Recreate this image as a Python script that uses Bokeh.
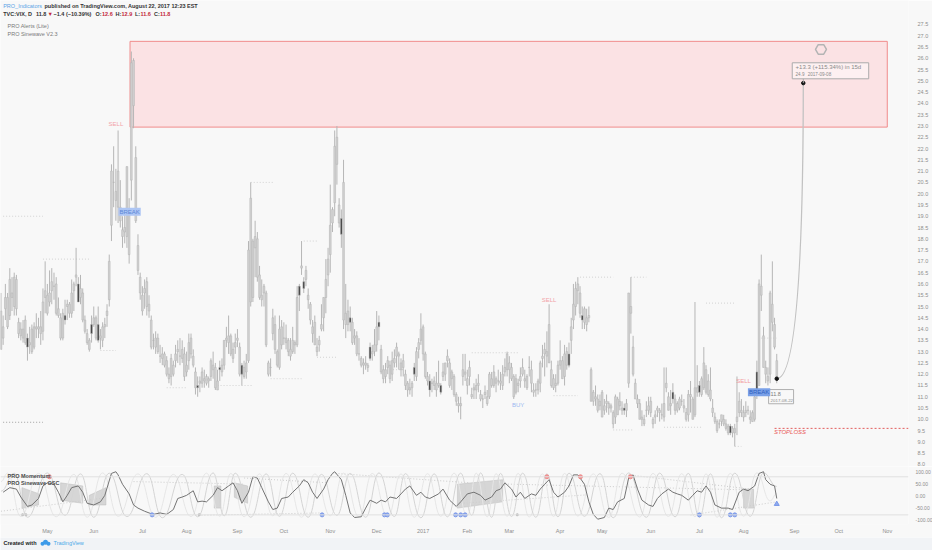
import pandas as pd
from bokeh.plotting import figure
from bokeh.models import Range1d, FixedTicker, NumeralTickFormatter, Label, Span, ColumnDataSource
from bokeh.layouts import column
from bokeh.embed import file_html
from bokeh.resources import INLINE

# ---------------- calendar ----------------
holidays = ["2016-05-30", "2016-07-04", "2016-09-05", "2016-11-24", "2016-12-26",
            "2017-01-02", "2017-01-16", "2017-02-20", "2017-04-14", "2017-05-29",
            "2017-07-04", "2017-09-04", "2017-11-23"]
days = pd.bdate_range("2016-04-01", "2017-11-30")
days = days[~days.isin(pd.to_datetime(holidays))]

month_labels = ["May", "Jun", "Jul", "Aug", "Sep", "Oct", "Nov", "Dec", "2017",
                "Feb", "Mar", "Apr", "May", "Jun", "Jul", "Aug", "Sep", "Oct", "Nov"]

# ---------------- TVC:VIX daily OHLC ----------------
apr16 = [(14.8,15.6,13.1,13.1),(13.6,14.6,13.3,14.1),(14.9,16.0,14.4,15.4),(15.4,15.6,14.0,14.1),
         (14.6,16.7,14.4,16.2),(15.6,16.3,14.8,15.4),(15.0,16.5,14.6,16.3),(16.2,16.4,14.6,14.9),
         (14.3,14.5,13.6,13.8),(14.0,14.3,13.5,13.7),(14.0,14.4,13.4,13.6),(14.4,14.6,13.3,13.4),
         (13.6,13.8,12.6,13.2),(13.4,14.1,12.9,13.3),(13.0,14.2,12.9,14.0),(14.1,14.3,13.1,13.2),
         (14.0,14.7,13.6,14.1),(14.1,14.5,13.6,14.0),(14.1,14.8,13.3,13.8),(13.9,15.8,13.5,15.2),
         (15.4,17.0,14.7,15.7)]
may16 = [(15.5,16.0,14.6,14.7),(15.2,16.6,15.0,15.6),(15.7,16.7,15.1,16.1),(15.9,16.5,15.3,15.9),
         (16.0,16.3,14.6,14.7),(14.9,15.4,14.5,14.6),(14.5,14.7,13.5,13.6),(13.6,14.9,13.5,14.7),
         (14.6,15.3,14.2,14.4),(15.1,15.3,14.4,15.0),(15.1,15.2,14.5,14.7),(14.7,16.2,14.5,15.6),
         (15.7,16.1,14.8,16.0),(16.4,17.6,15.9,16.3),(16.0,16.3,15.2,15.2),(15.4,16.4,15.1,15.8),
         (15.6,15.8,14.3,14.4),(14.4,14.6,13.8,13.9),(13.8,14.0,13.3,13.4),(13.5,13.6,13.0,13.1),
         (13.8,14.6,13.4,14.2)]
jun16 = [(14.5,15.0,14.1,14.2),(14.5,14.6,13.5,13.6),(14.2,15.0,13.4,13.5),(13.6,14.0,13.1,13.7),
         (13.5,14.3,13.2,14.1),(14.2,14.5,13.6,14.1),(14.8,15.1,14.1,14.6),(15.3,17.3,15.0,17.0),
         (18.6,21.3,17.9,21.0),(20.5,22.1,19.4,20.5),(19.7,21.1,18.8,20.1),(21.0,22.8,18.7,19.4),
         (18.8,20.6,18.5,19.4),(18.1,19.0,17.6,18.4),(18.3,19.1,17.8,18.5),(18.1,21.2,17.6,21.2),
         (19.3,19.8,16.9,17.3),(20.6,26.3,19.7,25.8),(25.9,26.0,22.9,23.9),(21.6,22.1,18.7,18.8),
         (17.7,18.2,16.4,16.6),(16.3,16.5,15.3,15.6)]
jul16 = [(15.5,15.9,14.6,14.8),(15.8,16.2,14.9,15.6),(16.1,16.3,14.6,15.0),(15.1,15.5,14.5,14.8),
         (14.4,14.6,13.1,13.2),(13.5,13.8,13.1,13.5),(13.2,13.9,12.9,13.6),(13.6,13.8,12.9,13.0),
         (12.8,13.3,12.5,12.8),(12.9,13.2,12.4,12.7),(12.9,13.0,12.3,12.4),(12.6,12.8,11.9,12.0),
         (12.0,12.3,11.6,11.8),(11.9,12.9,11.5,12.7),(12.4,12.6,11.9,12.0),(12.6,13.3,12.3,12.9),
         (13.0,13.5,12.5,13.1),(12.8,13.6,12.4,12.8),(13.1,13.5,12.5,12.7),(12.9,13.2,11.7,11.9)]
aug16 = [(12.1,13.0,11.9,12.4),(12.6,13.8,12.2,13.4),(13.6,13.8,12.7,12.9),(12.8,13.1,12.3,12.4),
         (12.1,12.3,11.1,11.4),(11.4,11.9,11.0,11.5),(11.6,11.9,11.2,11.7),(11.6,12.3,11.4,12.1),
         (11.8,12.2,11.4,11.7),(11.9,12.0,11.5,11.6),(11.7,11.9,11.4,11.8),(11.9,12.7,11.7,12.6),
         (12.4,13.0,11.8,12.2),(12.3,12.5,11.3,11.4),(11.7,12.2,11.3,11.3),(12.2,12.6,11.7,12.3),
         (12.1,12.7,11.9,12.4),(12.4,13.5,12.2,13.5),(13.5,14.1,13.2,13.6),(13.4,14.6,12.9,13.7),
         (13.7,13.8,12.8,12.9),(12.7,13.4,12.5,13.1),(13.2,13.8,12.9,13.4)]
sep16 = [(13.6,14.0,13.2,13.5),(13.2,13.4,11.9,12.0),(12.4,12.5,11.5,12.0),(12.3,12.6,11.8,11.9),
         (12.1,12.9,11.8,12.5),(12.6,17.9,12.5,17.5),(19.8,20.5,15.0,15.2),(15.4,18.0,15.2,17.9),
         (17.6,18.8,16.3,18.1),(18.0,18.3,16.1,16.3),(16.4,16.8,15.3,15.4),(15.3,16.2,15.0,15.5),
         (15.6,16.0,15.0,15.9),(15.6,15.7,13.2,13.3),(12.5,12.6,11.9,12.0),(12.3,12.7,11.9,12.3),
         (13.8,14.9,13.5,14.5),(14.2,14.6,12.9,13.1),(13.0,13.1,12.3,12.4),(12.3,14.6,12.2,14.0),
         (14.1,14.4,13.1,13.3)]
oct16 = [(13.6,14.3,13.3,13.6),(13.4,14.2,13.1,13.6),(13.5,13.6,12.8,13.0),(13.1,13.6,12.6,12.8),
         (13.0,14.1,12.9,13.5),(13.3,13.5,12.9,13.4),(13.3,15.9,13.2,15.4),(15.5,16.0,14.8,15.9),
         (16.8,17.9,16.4,16.7),(15.8,16.3,15.6,16.1),(16.6,16.8,15.9,16.2),(15.5,15.8,14.9,15.3),
         (15.1,15.2,14.2,14.4),(14.1,14.4,13.4,13.8),(14.3,14.6,13.3,13.3),(13.2,13.6,12.8,13.0),
         (13.3,13.7,13.0,13.5),(14.0,15.1,13.9,14.2),(14.5,15.4,13.9,15.4),(15.4,17.1,14.7,16.2),
         (16.4,17.6,15.9,17.1)]
nov16 = [(17.3,20.4,16.5,18.6),(18.7,19.4,18.3,19.3),(19.6,22.8,19.0,22.1),(21.3,23.0,20.4,22.5),
         (19.5,19.8,18.5,18.7),(18.9,19.3,17.6,18.2),(20.5,21.5,14.0,14.4),(14.2,16.0,13.6,14.7),
         (14.8,15.3,13.9,14.2),(14.3,15.0,13.9,14.5),(14.3,14.5,13.3,13.4),(13.6,14.0,13.3,13.7),
         (13.7,13.9,12.8,12.9),(12.9,13.6,12.6,12.9),(12.7,12.8,12.3,12.4),(12.5,12.7,12.0,12.4),
         (12.5,12.8,12.2,12.4),(12.4,12.5,12.1,12.3),(12.7,13.4,12.6,13.2),(13.0,13.3,12.6,12.9),
         (13.0,14.0,12.8,13.3)]
dec16 = [(13.3,14.8,13.0,14.1),(14.3,14.6,13.5,14.1),(13.1,13.3,12.0,12.1),(12.2,12.4,11.6,11.8),
         (11.9,12.5,11.6,12.2),(12.3,12.8,12.0,12.6),(12.4,12.6,11.6,11.8),(12.0,13.0,11.7,12.6),
         (12.5,13.1,12.3,12.7),(12.8,13.4,12.3,13.2),(12.9,13.0,12.2,12.8),(12.5,12.7,11.9,12.2),
         (12.6,12.9,11.9,12.3),(12.0,12.2,11.3,11.5),(11.6,11.7,11.0,11.3),(11.3,11.8,11.1,11.4),
         (11.6,11.7,11.0,11.4),(12.3,12.5,11.7,12.0),(11.9,13.2,11.7,13.0),(13.1,13.6,12.7,13.4),
         (13.5,14.7,13.3,14.0)]
jan17 = [(14.1,14.2,12.6,12.9),(12.9,13.0,11.8,11.9),(11.9,12.1,11.5,11.7),(11.7,12.0,11.0,11.3),
         (11.6,11.8,11.2,11.6),(11.7,11.9,11.3,11.5),(11.6,12.1,11.0,11.3),(11.6,12.6,11.4,11.5),
         (11.5,11.6,11.1,11.2),(12.1,12.5,11.7,11.9),(12.0,12.5,11.7,12.5),(12.6,13.1,12.3,12.8),
         (12.5,12.7,11.4,11.5),(12.1,12.2,11.3,11.8),(11.9,12.0,11.0,11.1),(11.1,11.2,10.6,10.8),
         (10.7,11.0,10.3,10.6),(10.7,11.0,10.0,10.6),(12.2,12.9,11.5,11.9),(12.1,12.9,11.7,12.0)]
feb17 = [(11.5,12.2,11.1,11.8),(12.3,12.6,11.5,11.9),(11.1,11.4,10.9,11.0),(11.3,11.6,10.9,11.4),
         (11.3,11.8,10.9,11.5),(11.6,12.0,11.2,11.5),(11.1,11.3,10.8,10.9),(10.9,11.1,10.5,10.9),
         (11.2,11.5,10.9,11.1),(11.0,11.3,10.6,10.7),(11.0,12.1,10.9,12.0),(11.5,12.1,11.4,11.8),
         (12.1,12.4,11.4,11.5),(11.8,11.9,11.2,11.6),(11.7,12.2,11.5,11.7),(11.6,12.1,11.3,11.7),
         (12.0,12.4,11.3,11.5),(12.3,12.7,11.9,12.1),(12.2,13.0,11.9,12.9)]
mar17 = [(12.2,12.8,11.6,12.5),(12.3,12.5,11.7,11.8),(11.9,12.0,10.9,11.0),(11.8,12.0,11.1,11.2),
         (11.6,11.8,11.2,11.5),(11.7,12.3,11.4,11.9),(12.0,12.7,11.9,12.3),(11.8,12.2,11.4,11.7),
         (11.9,12.0,11.3,11.4),(12.3,12.8,11.9,12.3),(12.2,12.6,11.2,11.6),(11.3,11.6,11.0,11.2),
         (11.3,11.6,11.0,11.3),(11.7,11.8,11.1,11.3),(11.6,12.6,11.2,12.5),(12.7,13.3,12.3,12.8),
         (12.9,13.4,11.9,13.1),(12.8,13.9,12.3,13.0),(14.2,15.1,12.5,12.5),(12.2,12.6,11.4,11.5),
         (11.8,12.0,11.3,11.4),(11.6,12.0,11.2,11.5),(11.6,12.6,11.5,12.4)]
apr17 = [(12.6,13.5,12.2,12.4),(12.6,12.8,11.8,11.8),(11.9,13.3,11.5,12.9),(13.0,13.2,12.2,12.4),
         (12.4,13.4,12.3,12.9),(13.5,14.5,12.9,14.1),(14.4,16.0,14.0,15.1),(15.0,16.1,14.6,15.8),
         (15.7,16.3,15.1,16.0),(15.6,15.9,14.5,14.7),(14.6,15.0,14.0,14.4),(14.3,15.0,14.0,14.9),
         (14.5,14.9,13.9,14.2),(14.5,15.0,14.3,14.6),(12.2,12.3,10.8,10.8),(11.2,11.3,10.6,10.8),
         (11.0,11.5,10.6,10.9),(10.9,11.1,10.3,10.4),(10.6,11.1,10.4,10.8)]
may17 = [(11.2,11.3,10.1,10.1),(10.4,10.9,10.2,10.6),(10.8,11.1,10.3,10.7),(10.7,10.8,10.2,10.5),
         (10.5,10.7,10.3,10.6),(10.3,10.4,9.6,9.8),(10.1,11.1,9.8,11.0),(10.9,11.0,10.2,10.2),
         (10.8,11.2,10.4,10.6),(10.5,10.8,10.2,10.4),(10.5,10.7,10.2,10.4),(10.4,10.9,10.1,10.7),
         (11.6,15.6,11.4,15.6),(15.0,16.3,13.8,14.7),(13.2,13.7,11.9,12.0),(11.6,11.8,10.9,10.9),
         (10.9,11.1,10.5,10.7),(10.7,10.9,10.0,10.0),(10.1,10.4,9.7,10.0),(10.0,10.2,9.7,9.8),
         (10.4,10.8,10.1,10.4),(10.6,11.0,10.2,10.4)]
jun17 = [(10.3,11.0,10.1,10.8),(10.0,10.1,9.6,9.8),(10.2,10.4,9.8,10.1),(10.4,10.6,10.1,10.5),
         (10.3,10.5,9.9,10.4),(10.2,10.7,10.0,10.2),(10.1,12.3,9.9,10.7),(11.6,12.3,11.2,11.4),
         (11.0,11.2,10.4,10.4),(10.7,11.3,10.2,10.6),(11.2,11.6,10.7,10.9),(10.9,11.1,10.2,10.4),
         (10.7,10.8,10.3,10.4),(10.5,11.0,10.4,10.9),(10.8,11.1,10.6,10.8),(10.6,10.9,10.3,10.5),
         (10.3,10.5,9.9,10.0),(10.2,11.3,9.9,11.1),(11.0,11.7,10.3,11.1),(10.9,11.0,10.0,10.0),
         (10.2,15.2,10.1,11.4),(11.4,12.4,11.0,11.2)]
jul17 = [(11.5,11.7,11.0,11.2),(11.8,11.9,11.0,11.1),(11.4,13.2,11.3,12.5),(12.2,12.4,11.1,11.2),
         (11.7,12.0,11.0,11.1),(11.3,12.3,10.8,10.9),(10.5,10.9,10.1,10.3),(10.1,10.3,9.8,9.9),
         (9.9,10.0,9.4,9.5),(9.8,10.0,9.6,9.8),(10.2,10.2,9.7,9.9),(10.0,10.2,9.7,9.8),
         (9.8,10.0,9.5,9.6),(9.7,9.8,9.3,9.4),(9.7,9.8,9.3,9.4),(9.6,9.7,9.2,9.4),
         (9.4,9.8,8.8,9.6),(9.9,11.9,9.3,10.1),(10.8,11.2,10.1,10.3),(10.4,10.9,10.1,10.3)]
aug17 = [(10.3,10.6,9.9,10.1),(10.4,10.8,10.1,10.3),(10.4,10.6,10.2,10.4),(10.1,10.4,9.8,10.0),
         (10.3,10.4,9.9,9.9),(10.0,11.2,9.9,11.0),(12.1,12.6,10.9,11.1),(11.5,16.2,11.5,16.0),
         (15.9,17.3,14.8,15.5),(13.7,14.1,12.3,12.3),(12.3,12.6,11.6,12.0),(11.9,12.3,11.5,11.7),
         (12.0,15.7,11.6,15.6),(15.1,17.0,13.9,14.3),(14.2,14.5,13.1,13.2),(12.6,12.9,11.6,11.8)]

dark_bars = [12, 29, 35, 41, 44, 89, 99, 109, 128, 135, 137, 154, 158, 167, 171, 187,
             194, 199, 218, 257, 263, 282, 304, 316, 330, 342]

# pivot levels (start bar, end bar, price)
piv_start = [1, 19, 45, 75, 98, 113, 122, 137, 143, 176, 213, 250, 262, 285, 277, 300, 319, 332, 344]
piv_end   = [19, 40, 52, 84, 114, 123, 136, 143, 152, 182, 234, 261, 277, 292, 286, 317, 332, 335, 351]
piv_level = [19.0, 17.1, 13.05, 11.4, 11.5, 20.5, 11.8, 17.9, 12.75, 12.2, 12.95, 11.05, 16.3,
             16.3, 9.53, 9.65, 15.15, 8.8, 13.6]

# signals
sig_text  = ["SELL", "SELL", "BUY", "SELL"]
sig_bar   = [52, 248, 234, 336]
sig_price = [23.1, 15.3, 10.65, 11.7]
sig_color = ["#f2a3a8", "#f2a3a8", "#9db8f0", "#f29aa0"]
break_bar = [58.2, 343]
break_price = [19.2, 11.2]

# zones / projection
box_left_date, box_right_date = "2016-06-24", "2017-11-01"
box_top, box_bottom = 26.75, 22.95
last_close = 11.8
target_date, target_price = "2017-09-08", 24.9
stop_level = 9.6

# PRO Momentum (bar, value)
mom_bar = [1,4,7,9,12,14,17,19,21,24,26,28,30,32,35,37,39,42,45,47,50,52,53,55,58,60,62,65,67,69,
           72,75,78,80,82,84,87,89,91,93,96,98,100,103,105,107,109,112,114,116,118,121,123,125,127,
           130,132,135,137,139,141,143,146,148,150,151,154,156,158,160,163,165,167,170,172,174,176,
           179,181,183,185,188,190,192,194,198,200,203,206,208,211,214,217,219,222,224,226,228,231,
           233,235,237,240,242,244,246,248,250,252,255,257,259,261,264,266,268,270,273,275,277,279,
           282,284,286,288,290,293,295,297,299,302,304,306,308,311,313,315,317,319,321,323,326,329,
           331,334,336,338,341,343,345,346,348,350,351]
mom_val = [16,35,29,-4,-43,-37,-10,42,55,49,16,-24,3,35,42,16,-30,-37,-24,3,94,101,88,49,9,-37,-50,
           -63,-70,-76,-70,-76,-56,-10,-4,3,22,-24,-21,-24,3,35,22,42,55,22,-30,16,81,75,35,-24,-56,
           -50,-10,-4,16,42,68,55,16,-10,29,68,94,101,68,3,-70,-89,-86,-50,-17,-30,-17,-24,-4,-10,9,
           29,42,3,16,-4,-10,9,29,-17,-43,-24,9,16,3,-17,-4,22,29,55,29,-4,16,-10,9,3,29,49,68,16,
           -4,16,42,88,88,49,-24,-76,-96,-89,-50,-56,-24,-10,75,88,29,-17,-37,-43,-10,9,29,16,9,3,
           -17,3,22,16,42,16,-37,-50,-50,-56,16,29,22,42,94,101,68,49,42,-10]

# PRO Sinewave turning points
sine_bar = [0,6,12,21,29,36,42,49,57,66,73,82,89,96,101,106,113,120,126,132,139,145,152,158,165,
            171,178,183,190,196,202,208,213,217,222,226,231,236,242,247,252,257,264,271,277,284,
            292,298,305,311,316,321,326,332,339,345,351]
sine_val = [20,95,-88,96,-80,92,-88,95,-85,93,-90,90,-86,96,-82,95,-88,92,-84,95,-88,90,-80,94,-88,
            96,-85,93,-90,92,-86,95,-80,96,-88,94,-85,95,-88,92,-86,95,-84,93,-90,96,-88,95,-86,94,
            -88,92,-90,95,-84,96,40]
lead_bar = [0,3,9,17,25,33,39,46,53,62,70,78,86,93,99,104,110,117,123,129,136,142,149,155,162,168,
            175,181,187,193,199,205,211,215,220,224,229,234,239,245,250,255,261,268,275,281,289,295,
            302,308,314,319,324,330,336,342,348,351]
lead_val = [60,95,-85,94,-86,90,-88,96,-84,92,-88,90,-85,95,-84,94,-86,92,-82,94,-88,92,-82,95,-86,
            94,-88,92,-88,93,-84,95,-82,95,-86,93,-84,94,-87,92,-85,94,-83,92,-89,95,-87,94,-85,93,
            -86,92,-88,94,-84,96,-20,10]

# shaded wedges
wedge_x = [[9.5,17,17,9.5],[27,37,37,27],[40,47.5,47.5,40],[96.5,99.5,99.5,96.5],
           [105.6,111.6,111.6,105.6],[206.5,227,227,206.5],[336,340.5,340.5,336]]
wedge_y = [[35,10,-37,-50],[55,42,-30,-17],[3,35,-37,-37],[42,42,-50,-50],
           [55,42,-30,-5],[49,68,-24,-50],[29,29,-50,-50]]
# oscillator trend lines
tl_x0 = [0, 60, 110, 88, 150, 208, 228, 284, 312]
tl_y0 = [-63, 60, 75, -80, 95, -30, 50, 88, -79]
tl_x1 = [45, 110, 148, 145, 212, 265, 336, 339, 351]
tl_y1 = [-10, 50, 55, -70, 55, 5, 26, 29, -24]
# oscillator markers
blue_dot_bar = [68.4, 145.3, 173.5, 174.8, 205.7, 208, 210, 316, 330, 332]
gray_dot_bar = [9.8, 11.3, 89.7, 233.6]
red_dot_bar = [21.9, 247, 262.2, 284.8]
band_hi, band_lo = 80, -78

# ---------------- figures ----------------
FW, AXW = 908, 24
W = FW + AXW
BG = "#f8f8f8"
FONT = "Liberation Sans"
AXC = "#8e8e8e"

ohlc = apr16 + may16 + jun16 + jul16 + aug16 + sep16 + oct16 + nov16 + dec16 + \
       jan17 + feb17 + mar17 + apr17 + may17 + jun17 + jul17 + aug17
bars = list(range(len(ohlc)))
src = ColumnDataSource(dict(
    x=bars, o=[r[0] for r in ohlc], h=[r[1] for r in ohlc], l=[r[2] for r in ohlc],
    c=[r[3] for r in ohlc],
    col=["#3a3a3a" if i in dark_bars else "#d2d2d2" for i in bars]))

xr = Range1d(-0.2, 410.6)
p = figure(frame_width=FW, frame_height=466, x_range=xr, y_range=Range1d(7.91, 28.56),
           output_backend="svg", toolbar_location=None, x_axis_location=None,
           y_axis_location="right")
p.min_border_left = 0; p.min_border_top = 0; p.min_border_bottom = 0; p.min_border_right = AXW
p.grid.visible = False
p.outline_line_color = None
p.background_fill_color = BG
p.border_fill_color = BG
ya = p.yaxis[0]
ya.ticker = FixedTicker(ticks=[8.0 + 0.5 * k for k in range(40)])
ya.formatter = NumeralTickFormatter(format="0.0")
ya.axis_line_color = None
ya.major_tick_line_color = None
ya.minor_tick_line_color = None
ya.major_label_standoff = 3
ya.major_label_text_font_size = "5.5px"
ya.major_label_text_color = AXC
ya.major_label_text_font = FONT

bl = days.get_loc(pd.Timestamp(box_left_date))
br = days.get_loc(pd.Timestamp(box_right_date))
p.quad(left=[bl - 0.6], right=[br], bottom=[box_bottom], top=[box_top],
       fill_color="#fbe2e4", line_color="#f08c8c", line_width=1)

# pivot dotted levels
p.segment(x0=piv_start, x1=piv_end, y0=piv_level, y1=piv_level, line_color="#d2d2d2",
          line_dash="1 2", line_width=1)
p.segment(x0=[1], x1=[19], y0=[9.87], y1=[9.87], line_color="#a0a0a0", line_dash="1 2", line_width=1)

# candles
p.segment(x0="x", x1="x", y0="l", y1="h", source=src, line_color="#b6b6b6", line_width=1)
p.vbar(x="x", width=0.8, top="o", bottom="c", source=src, fill_color="col",
       line_color="#b3b3b3", line_width=0.5)

# signals
for t, b, v, col in zip(sig_text, sig_bar, sig_price, sig_color):
    p.add_layout(Label(x=b, y=v, text=t, text_color=col, text_font=FONT, text_font_size="6px",
                       text_align="center", text_baseline="middle"))
p.add_layout(Label(x=break_bar[0], y=break_price[0], text="BREAK", text_color="#5b86d6",
                   background_fill_color="#aec6f4", text_font=FONT, text_font_size="6px",
                   text_align="center", text_baseline="middle", padding=1))
p.add_layout(Label(x=break_bar[1], y=break_price[1], text="BREAK", text_color="#2f5fbf",
                   background_fill_color="#7aa1e8", text_font=FONT, text_font_size="6px",
                   text_align="center", text_baseline="middle", padding=1))

# stop loss
last_bar = len(ohlc) - 1
p.segment(x0=[last_bar - 1], x1=[411], y0=[stop_level], y1=[stop_level], line_color="#e35d5d",
          line_dash="2 2", line_width=1)
p.add_layout(Label(x=last_bar - 1.3, y=stop_level - 0.05, text="STOPLOSS", text_color="#ea5a5a",
                   text_font=FONT, text_font_size="6px", text_font_style="italic",
                   text_align="left", text_baseline="top"))

# projection
tb = days.get_loc(pd.Timestamp(target_date))
p.quadratic(x0=[last_bar], y0=[last_close], x1=[tb], y1=[target_price], cx=[tb], cy=[last_close],
            line_color="#c2c2c2", line_width=1.3)
p.scatter(x=[last_bar, tb], y=[last_close, target_price], size=3.5, color="#111111")
p.quad(left=[358], right=[392.6], bottom=[25.09], top=[25.80], fill_color="#fdf0f1",
       line_color="#ababab", line_width=1)
p.segment(x0=[tb], x1=[tb], y0=[25.09], y1=[target_price], line_color="#ababab")
p.add_layout(Label(x=359.5, y=25.6, text="+13.3 (+115.34%) in 15d", text_color="#8a8a8a",
                   text_font=FONT, text_font_size="6px", text_baseline="middle"))
p.add_layout(Label(x=359.5, y=25.3, text="24.9", text_color="#8a8a8a",
                   text_font=FONT, text_font_size="4.6px", text_baseline="middle"))
p.add_layout(Label(x=365, y=25.3, text=target_date, text_color="#8a8a8a",
                   text_font=FONT, text_font_size="4.6px", text_baseline="middle"))
p.scatter(x=[371], y=[26.39], marker="hex", size=11, fill_color=None, line_color="#b4b4b4",
          line_width=1.5)
p.quad(left=[347.3], right=[358.6], bottom=[10.69], top=[11.32], fill_color=BG,
       line_color="#b0b0b0", line_width=1)
p.add_layout(Label(x=348.2, y=11.13, text="11.8", text_color="#7a7a7a", text_font=FONT,
                   text_font_size="5.5px", text_baseline="middle"))
p.add_layout(Label(x=348.2, y=10.84, text="2017-08-22", text_color="#8a8a8a", text_font=FONT,
                   text_font_size="4.4px", text_baseline="middle"))
# last price badge on axis
p.add_layout(Label(x=FW + 1, y=last_close, x_units="screen", text="11.8", text_color="white",
                   background_fill_color="#5c5c5c", text_font=FONT, text_font_size="5.5px",
                   text_baseline="middle", padding=1))

# header
def hdr(x, y, text, color, style="bold", size="5.5px"):
    p.add_layout(Label(x=x, y=y, x_units="screen", text=text, text_color=color, text_font=FONT,
                       text_font_size=size, text_font_style=style, text_baseline="middle"))

hdr(2.7, 28.33, "PRO_Indicators", "#5ba3e6", style="normal")
hdr(44.0, 28.33, "published on TradingView.com, August 22, 2017 12:23 EST", "#333333")
RED = "#c3283a"
hdr(2.7, 27.97, "TVC:VIX, D", "#333333")
hdr(35.5, 27.97, "11.8", "#333333")
hdr(47.0, 27.97, "\u25bc", RED)
hdr(53.0, 27.97, "\u22121.4 (\u221210.39%)", "#333333")
hdr(95.0, 27.97, "O:", "#333333")
hdr(101.5, 27.97, "12.6", RED)
hdr(115.0, 27.97, "H:", "#333333")
hdr(121.0, 27.97, "12.9", RED)
hdr(134.5, 27.97, "L:", "#333333")
hdr(140.0, 27.97, "11.6", RED)
hdr(153.5, 27.97, "C:", "#333333")
hdr(159.5, 27.97, "11.8", RED)
hdr(7.0, 27.44, "PRO Alerts (Lite)", "#7a7a7a", style="normal")
hdr(7.0, 27.06, "PRO Sinewave V2.3", "#7a7a7a", style="normal")

# ---------------- oscillator pane ----------------
q = figure(frame_width=FW, frame_height=58, x_range=xr, y_range=Range1d(-118, 122.7),
           output_backend="svg", toolbar_location=None, y_axis_location="right")
q.min_border_left = 0; q.min_border_top = 0; q.min_border_bottom = 13; q.min_border_right = AXW
q.grid.visible = False
q.outline_line_color = None
q.background_fill_color = BG
q.border_fill_color = BG
qy = q.yaxis[0]
qy.ticker = FixedTicker(ticks=[-100, -50, 0, 50, 100])
qy.formatter = NumeralTickFormatter(format="0.00")
qy.axis_line_color = None
qy.major_tick_line_color = None
qy.minor_tick_line_color = None
qy.major_label_standoff = 1
qy.major_label_text_font_size = "5px"
qy.major_label_text_color = AXC
qy.major_label_text_font = FONT

dser = pd.Series(range(len(days)), index=days)
firsts = dser.groupby([days.year, days.month]).first()
mticks = [int(v) for v in list(firsts.values)[1:1 + len(month_labels)]]
qx = q.xaxis[0]
qx.ticker = FixedTicker(ticks=mticks)
qx.major_label_overrides = {t: lab for t, lab in zip(mticks, month_labels)}
qx.axis_line_color = None
qx.major_tick_line_color = None
qx.minor_tick_line_color = None
qx.major_tick_out = 0
qx.major_label_standoff = 3
qx.major_label_text_font_size = "5.5px"
qx.major_label_text_color = AXC
qx.major_label_text_font = FONT

q.add_layout(Span(location=band_hi, dimension="width", line_color="#e0e0e0", line_width=1))
q.add_layout(Span(location=band_lo, dimension="width", line_color="#e0e0e0", line_width=1))

q.patches(xs=wedge_x, ys=wedge_y, fill_color="#cdcdcd", fill_alpha=0.8, line_color="#bdbdbd",
          line_width=0.5)
q.segment(x0=tl_x0, y0=tl_y0, x1=tl_x1, y1=tl_y1, line_color="#cccccc", line_dash="1 2")

def smooth(xs, ys, color, width):
    x0, x1, y0, y1 = xs[:-1], xs[1:], ys[:-1], ys[1:]
    cx0 = [a + (b - a) * 0.45 for a, b in zip(x0, x1)]
    cx1 = [b - (b - a) * 0.45 for a, b in zip(x0, x1)]
    q.bezier(x0=x0, y0=y0, x1=x1, y1=y1, cx0=cx0, cy0=y0, cx1=cx1, cy1=y1,
             line_color=color, line_width=width)

smooth(lead_bar, lead_val, "#e6e6e6", 1)
smooth(sine_bar, sine_val, "#d4d4d4", 1)
q.line(mom_bar, mom_val, line_color="#737373", line_width=1)

q.scatter(x=blue_dot_bar, y=[band_lo] * len(blue_dot_bar), size=4, fill_color="#8eaaf0",
          line_color="#7a98e8")
q.scatter(x=gray_dot_bar, y=[band_lo] * len(gray_dot_bar), size=3, fill_color="#b8b8b8", line_color=None)
q.scatter(x=red_dot_bar, y=[band_hi] * len(red_dot_bar), size=4, fill_color="#f29a9a", line_color="#ee8888")
q.scatter(x=[last_bar], y=[-33], marker="triangle", size=5, fill_color="#8eaaf0", line_color="#7a98e8")

q.add_layout(Label(x=7, y=83.5, x_units="screen", text="PRO Momentum", text_color="#4a4a4a",
                   text_font=FONT, text_font_size="5.5px", text_font_style="bold",
                   text_baseline="middle"))
q.add_layout(Label(x=7, y=56, x_units="screen", text="PRO Sinewave OSC", text_color="#4a4a4a",
                   text_font=FONT, text_font_size="5.5px", text_font_style="bold",
                   text_baseline="middle"))

# ---------------- footer ----------------
f = figure(frame_width=W, frame_height=13, x_range=Range1d(0, W), y_range=Range1d(0, 13),
           output_backend="svg", toolbar_location=None, x_axis_location=None, y_axis_location=None)
f.min_border = 0
f.grid.visible = False
f.outline_line_color = None
f.background_fill_color = "#f1f3f6"
f.border_fill_color = "#f1f3f6"
f.add_layout(Label(x=3, y=7.5, text="Created with", text_color="#222222", text_font=FONT,
                   text_font_size="5.5px", text_font_style="bold", text_baseline="middle"))
f.scatter(x=[42, 45, 48], y=[6.8, 8.2, 6.8], size=[4, 5, 4], fill_color="#3d9be9", line_color=None)
f.add_layout(Label(x=53, y=7.5, text="TradingView", text_color="#4aa8e8", text_font=FONT,
                   text_font_size="5.5px", text_baseline="middle"))

layout = column(p, q, f, spacing=0)
open("out.html", "w").write(file_html(layout, INLINE, title="TVC:VIX"))
